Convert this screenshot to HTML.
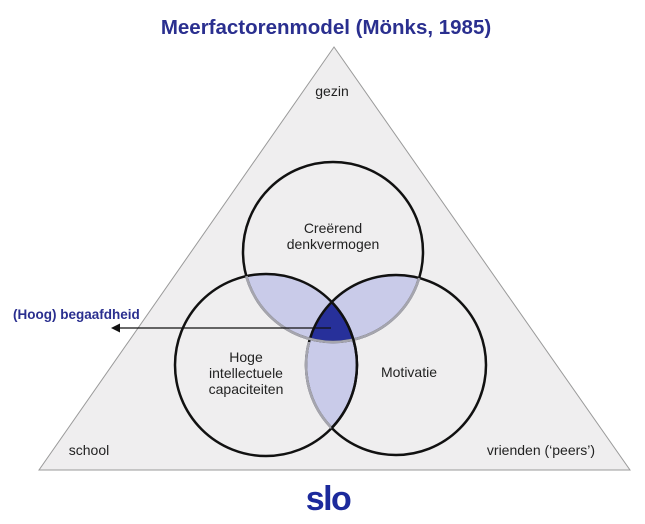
<!DOCTYPE html>
<html><head><meta charset="utf-8"><style>
html,body{margin:0;padding:0;background:#fff;}
svg{display:block;}
text{font-family:"Liberation Sans",sans-serif;}
</style></head><body>
<svg width="645" height="524" viewBox="0 0 645 524" xmlns="http://www.w3.org/2000/svg">
<defs>
<clipPath id="cT"><circle cx="333" cy="252" r="90"/></clipPath>
<clipPath id="cL"><circle cx="266" cy="365" r="91"/></clipPath>
<clipPath id="cR"><circle cx="396" cy="365" r="90"/></clipPath>
<clipPath id="cLR"><circle cx="266" cy="365" r="91"/><circle cx="396" cy="365" r="90"/></clipPath>
<clipPath id="below"><rect x="0" y="342" width="645" height="200"/></clipPath>
</defs>
<text x="326" y="34" text-anchor="middle" font-size="20.5" font-weight="bold" fill="#2a2f8f">Meerfactorenmodel (Mönks, 1985)</text>
<polygon points="334,47 39,470 630,470" fill="#efeeef" stroke="#9a9a9a" stroke-width="1"/>
<g clip-path="url(#cT)"><circle cx="266" cy="365" r="91" fill="#c9cbe9"/><circle cx="396" cy="365" r="90" fill="#c9cbe9"/></g>
<g clip-path="url(#cL)"><circle cx="396" cy="365" r="90" fill="#c9cbe9"/></g>
<g clip-path="url(#cT)"><g clip-path="url(#cL)"><circle cx="396" cy="365" r="90" fill="#27309a"/></g></g>
<circle cx="333" cy="252" r="90" fill="none" stroke="#111" stroke-width="2.5"/>
<circle cx="266" cy="365" r="91" fill="none" stroke="#111" stroke-width="2.5"/>
<circle cx="396" cy="365" r="90" fill="none" stroke="#111" stroke-width="2.5"/>
<g clip-path="url(#cLR)"><circle cx="333" cy="252" r="90" fill="none" stroke="#a5a5ae" stroke-width="2.6"/></g>
<g clip-path="url(#cL)"><g clip-path="url(#below)"><circle cx="396" cy="365" r="90" fill="none" stroke="#a5a5ae" stroke-width="2.6"/></g></g>
<circle cx="266" cy="365" r="91" fill="none" stroke="#111" stroke-width="2.5" clip-path="url(#cR)"/>
<line x1="331" y1="328" x2="118" y2="328" stroke="#111" stroke-width="1.3"/>
<polygon points="111,328 120,323.5 120,332.5" fill="#111"/>
<text x="13" y="319" font-size="13.5" font-weight="bold" fill="#2a2f8f">(Hoog) begaafdheid</text>
<g font-size="14" fill="#222" text-anchor="middle">
<text x="332" y="96">gezin</text>
<text x="89" y="455">school</text>
<text x="541" y="455">vrienden (‘peers’)</text>
<text x="333" y="233">Creërend</text>
<text x="333" y="249">denkvermogen</text>
<text x="246" y="362">Hoge</text>
<text x="246" y="378">intellectuele</text>
<text x="246" y="394">capaciteiten</text>
<text x="409" y="377">Motivatie</text>
</g>
<text x="328" y="510" text-anchor="middle" font-size="34" font-weight="bold" fill="#1c2a9c" letter-spacing="-1.5">slo</text>
</svg>
</body></html>
